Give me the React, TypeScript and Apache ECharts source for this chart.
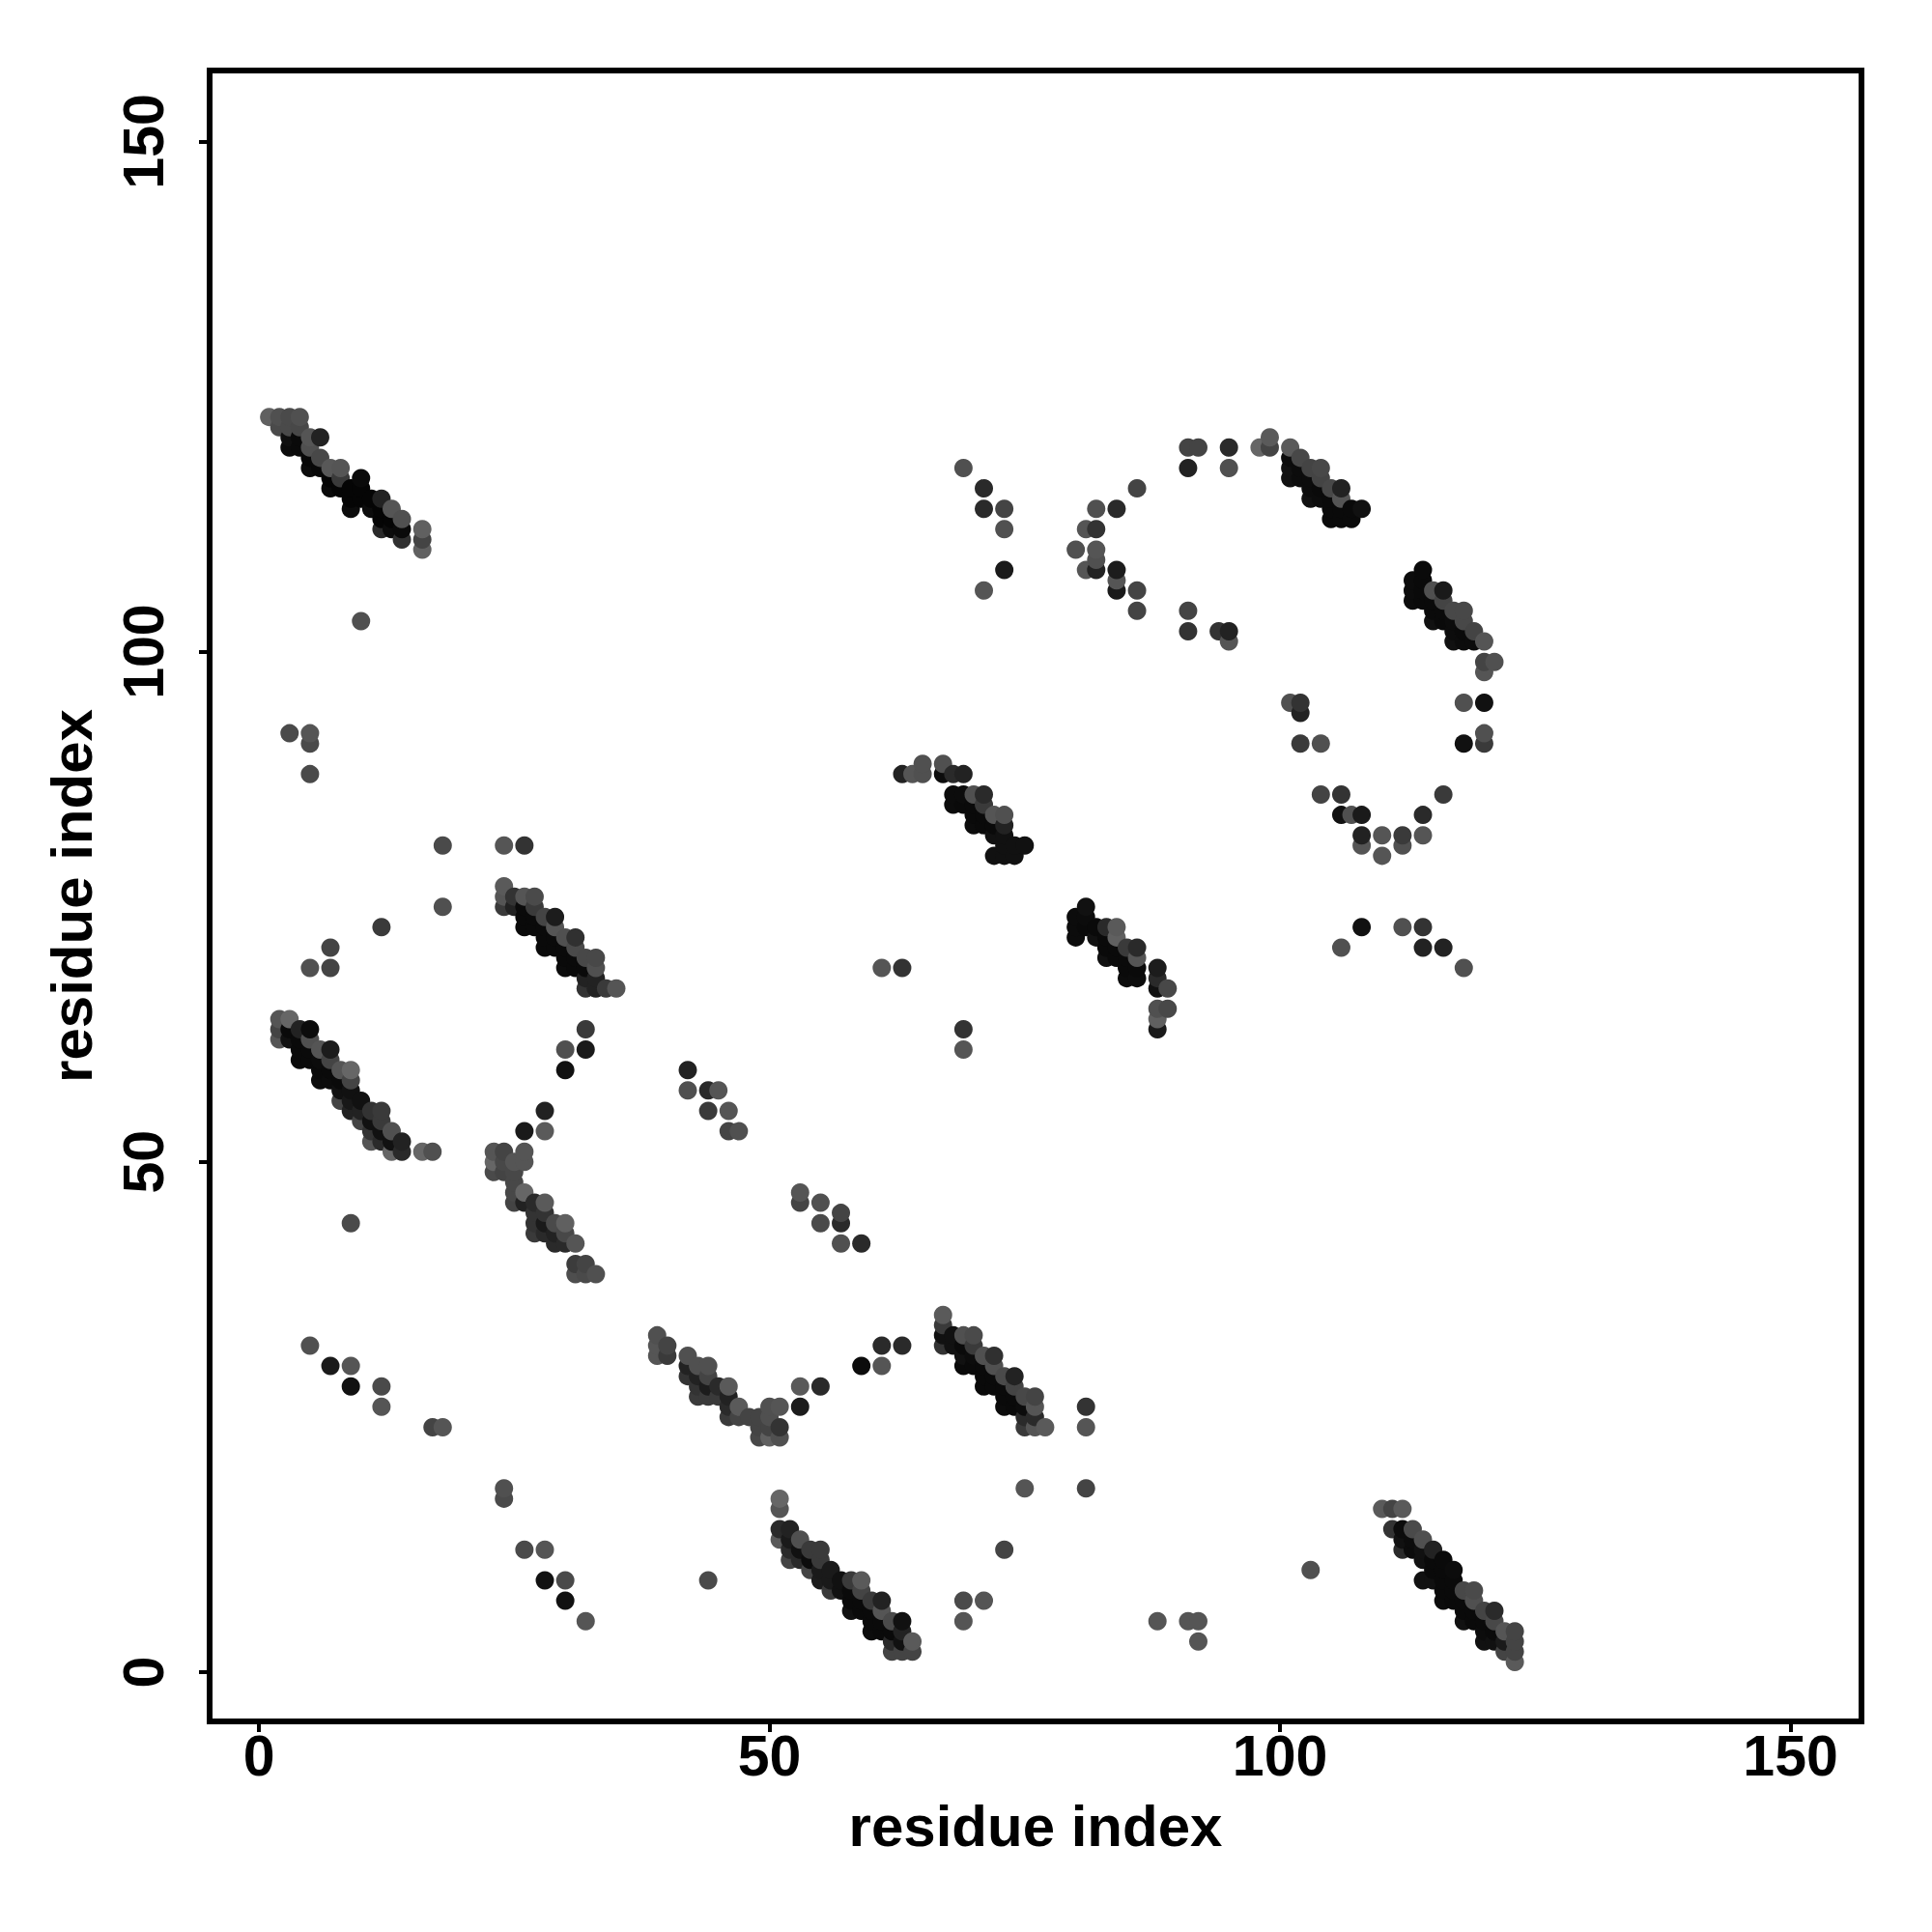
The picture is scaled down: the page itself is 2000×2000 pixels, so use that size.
import React, { useEffect, useRef } from "react";
import * as echarts from "echarts";

type P = [number, number, number];

const xTicks = [0, 50, 100, 150];
const yTicks = [0, 50, 100, 150];
const xTitle = "residue index";
const yTitle = "residue index";

const bandA: P[] = [
  [3,121,0x10],[3,120,0x0c],[4,120,0x0a],[4,121,0x0a],[5,119,0x08],[5,118,0x0c],[6,118,0x08],[6,119,0x48],[7,117,5],[7,116,0x0a],[8,116,5],[9,116,5],[9,115,5],[9,114,0x0c],[10,115,5],[10,116,5],[11,115,5],[11,114,0x0c],[12,114,5],[12,113,5],[12,112,0x2a],[13,113,5],[13,112,0x0c],[14,112,0x0a],[14,111,0x30],
  [1,123,0x60],[2,122,0x4a],[2,123,0x50],[3,123,0x4a],[3,122,0x4a],[4,123,0x50],[4,122,0x48],[5,121,0x55],[5,120,0x50],[6,121,0x22],[7,118,0x58],[8,118,0x55],[8,117,0x3a],[10,117,0x0a],[12,115,0x22],[13,114,0x55],[14,113,0x50],[16,112,0x60],[16,111,0x44],[16,110,0x60],[10,103,0x50],
];
const bandB: P[] = [
  [2,64,0x55],[3,64,0x66],[2,63,0x44],[2,62,0x55],[3,62,0x11],[3,63,0x0a],[4,63,0x22],[5,63,0x0c],[5,62,0x50],[4,62,0x0a],[4,61,0x0a],[5,61,0x0a],[6,61,0x55],[7,61,0x1c],[4,60,0x0a],[5,60,0x0a],[6,60,0x0c],[6,59,0x0a],[7,59,0x0a],[7,60,0x44],[8,59,0x55],[9,59,0x66],[9,58,0x44],[6,58,0x0c],[7,58,0x0c],[8,58,0x0a],[8,56,0x44],[8,57,0x11],[9,57,0x11],[10,56,0x11],[9,56,0x18],[9,55,0x22],[10,55,0x22],[11,55,0x33],[12,55,0x3a],[10,54,0x44],[11,54,0x11],[12,54,0x3a],[11,53,0x33],[11,52,0x55],[13,53,0x50],[14,52,0x22],[14,51,0x2a],[13,51,0x66],[12,52,0x2a],[13,52,0x11],[12,53,0x11],[16,51,0x66],[17,51,0x50],[9,44,0x4a],
];
const bandC: P[] = [
  [24,77,0x5a],[24,76,0x55],[24,75,0x3a],[25,76,0x33],[26,76,0x55],[27,76,0x4a],[27,75,0x3a],[25,75,0x22],[26,75,0x0a],[26,74,0x0a],[26,73,0x0a],[27,74,0x0a],[27,73,0x0a],[28,73,0x0a],[28,72,0x0a],[28,71,0x0a],[29,72,0x0a],[29,71,0x0a],[30,71,0x0a],[30,70,0x0a],[30,69,0x0c],[31,70,0x0a],[31,69,0x0a],[32,69,0x0a],[28,74,0x44],[29,74,0x1c],[29,73,0x55],[30,72,0x50],[31,72,0x30],[31,71,0x4a],[32,70,0x48],[33,70,0x48],[33,69,0x50],[32,68,0x22],[32,67,0x33],[33,68,0x22],[33,67,0x22],[34,67,0x3a],[35,67,0x55],[32,63,0x3a],[32,61,0x1a],[30,61,0x50],[30,59,0x11],[28,55,0x22],
];
const bandD: P[] = [
  [23,51,0x55],[24,51,0x44],[26,51,0x55],[26,50,0x55],[25,50,0x55],[23,50,0x66],[23,49,0x4a],[24,49,0x44],[24,50,0x48],[25,49,0x48],[25,48,0x48],[25,47,0x48],[25,46,0x44],[26,47,0x66],[26,46,0x22],[27,46,0x2a],[28,46,0x5a],[27,45,0x33],[27,44,0x33],[27,43,0x3a],[28,45,0x33],[28,44,0x1a],[28,43,0x2a],[29,44,0x4a],[30,44,0x60],[29,43,0x22],[29,42,0x2a],[30,42,0x2a],[30,43,0x48],[31,42,0x55],[31,40,0x3c],[32,40,0x44],[31,39,0x4e],[32,39,0x4a],[33,39,0x50],[26,53,0x1a],[28,53,0x5a],
];
const bandE: P[] = [
  [39,33,0x50],[39,32,0x55],[39,31,0x55],[40,32,0x44],[40,31,0x3a],[42,31,0x50],[42,30,0x22],[42,29,0x33],[43,29,0x22],[43,30,0x50],[44,30,0x50],[44,29,0x44],[44,28,0x1c],[43,28,0x33],[43,27,0x3a],[44,27,0x3a],[45,28,0x2a],[45,27,0x3a],[46,28,0x5a],[46,27,0x22],[47,26,0x5a],[46,26,0x2a],[46,25,0x3a],[47,25,0x44],[48,25,0x44],[49,25,0x44],[50,26,0x50],[51,26,0x55],[50,25,0x50],[49,24,0x44],[50,24,0x44],[49,23,0x48],[50,23,0x60],[51,23,0x50],[51,24,0x33],[53,28,0x5a],[55,28,0x2a],[53,26,0x1c],
];
const bandF: P[] = [
  [67,35,0x5a],[67,34,0x3a],[67,33,0x11],[67,32,0x33],[68,33,0x11],[68,32,0x11],[69,33,0x50],[70,33,0x4a],[70,32,0x3a],[69,32,0x0a],[69,31,0x11],[69,30,0x0a],[70,31,0x0c],[70,30,0x0a],[71,31,0x50],[72,31,0x30],[72,30,0x50],[71,30,0x0a],[71,29,0x0a],[71,28,0x0a],[72,29,0x0a],[72,28,0x0a],[73,29,0x4a],[74,29,0x22],[73,28,0x0a],[73,27,0x0a],[73,26,0x0c],[74,28,0x44],[74,27,0x0a],[74,26,0x0a],[75,27,0x48],[76,27,0x44],[76,26,0x55],[75,26,0x0c],[75,25,0x2a],[75,24,0x3a],[76,25,0x2a],[76,24,0x55],[77,24,0x5a],
];
const bandG: P[] = [
  [51,17,0x66],[51,16,0x55],[51,14,0x2a],[52,14,0x22],[51,13,0x5a],[52,13,0x1a],[53,13,0x50],[52,12,0x2a],[52,11,0x44],[53,12,0x11],[53,11,0x2a],[54,12,0x3a],[55,12,0x3a],[54,11,0x0c],[54,10,0x44],[55,11,0x3a],[55,10,0x1a],[56,10,0x1a],[55,9,0x1c],[56,9,0x1a],[56,8,0x3a],[57,9,0x11],[58,9,0x3a],[59,9,0x5a],[57,8,0x11],[58,8,0x0a],[58,7,0x0a],[58,6,0x11],[59,8,0x44],[59,7,0x0a],[59,6,0x0a],[60,7,0x3a],[61,7,0x22],[60,6,0x0a],[60,5,0x0a],[60,4,0x0c],[61,6,0x55],[61,5,0x0a],[61,4,0x0a],[62,5,0x4a],[63,5,0x11],[62,4,0x0a],[62,3,0x2a],[62,2,0x44],[63,4,0x22],[63,3,0x11],[63,2,0x44],[64,3,0x5a],[64,2,0x44],
];
const bandH: P[] = [
  [110,16,0x5a],[111,16,0x44],[112,16,0x5a],[111,14,0x33],[112,14,0x0c],[113,14,0x4a],[112,13,0x11],[112,12,0x2a],[113,13,0x0c],[113,12,0x0c],[114,13,0x50],[114,12,0x11],[115,12,0x22],[114,11,0x11],[115,11,0x0a],[116,11,0x0a],[116,10,0x0a],[117,10,0x0c],[115,10,0x0a],[114,9,0x11],[115,9,0x11],[116,9,0x0a],[116,8,0x0a],[116,7,0x0c],[117,9,0x0a],[117,8,0x0a],[117,7,0x0a],[118,8,0x48],[119,8,0x4a],[119,7,0x50],[118,7,0x0a],[118,6,0x0a],[118,5,0x11],[119,6,0x0a],[119,5,0x0a],[120,6,0x44],[121,6,0x2a],[120,5,0x0a],[120,4,0x0c],[120,3,0x11],[121,5,0x48],[121,4,0x0a],[121,3,0x11],[122,4,0x55],[122,3,0x1a],[123,4,0x44],[122,2,0x44],[123,3,0x44],[123,2,0x44],[123,1,0x5a],
];
const bandI: P[] = [
  [98,120,0x66],[99,121,0x5a],[99,120,0x44],[101,120,0x5a],[102,119,0x48],[103,118,0x44],[104,118,0x48],[104,117,0x44],[105,116,0x48],[106,116,0x22],[106,115,0x55],[108,114,0x11],[101,119,0x0c],[101,118,0x11],[101,117,0x11],[102,118,0x0c],[102,117,0x0c],[103,117,0x0c],[103,116,0x0c],[103,115,0x11],[104,116,0x0a],[104,115,0x0c],[105,115,0x0a],[105,114,0x0a],[105,113,0x0a],[106,114,0x0a],[106,113,0x0a],[107,114,0x0a],[107,113,0x0a],
];
const bandJ: P[] = [
  [114,108,0x0a],[113,107,0x0c],[113,106,0x0c],[113,105,0x0c],[114,107,0x0a],[114,106,0x0a],[114,105,0x0a],[115,106,0x50],[116,106,0x1a],[115,105,0x0a],[116,105,0x44],[115,104,0x0a],[115,103,0x11],[116,104,0x0a],[116,103,0x0a],[117,104,0x48],[118,104,0x48],[117,103,0x0c],[118,103,0x48],[117,102,0x0c],[117,101,0x11],[118,102,0x0a],[118,101,0x0c],[119,102,0x44],[119,101,0x0c],[120,101,0x55],
];
const bandK: P[] = [
  [63,88,0x22],[64,88,0x55],[65,88,0x50],[65,89,0x50],[67,89,0x50],[67,88,0x0c],[68,88,0x2a],[69,88,0x22],[68,86,0x0c],[69,86,0x0c],[68,85,0x0c],[70,86,0x50],[71,86,0x2a],[71,85,0x3a],[70,85,0x0a],[69,85,0x0a],[70,84,0x0a],[70,83,0x0c],[71,84,0x0a],[71,83,0x0a],[72,84,0x55],[73,84,0x50],[73,83,0x22],[72,83,0x0a],[72,82,0x11],[73,82,0x11],[72,80,0x11],[73,80,0x11],[74,80,0x11],[73,81,0x11],[74,81,0x11],[75,81,0x11],
];
const bandL: P[] = [
  [81,75,0x11],[80,74,0x0c],[80,73,0x0c],[80,72,0x0c],[81,74,0x0c],[81,73,0x0a],[82,73,0x0a],[82,72,0x11],[83,73,0x2a],[84,73,0x5a],[84,72,0x60],[83,72,0x0a],[83,71,0x0a],[83,70,0x11],[84,71,0x0a],[84,70,0x0a],[85,71,0x3a],[86,71,0x2a],[86,70,0x55],[85,70,0x0a],[85,69,0x0a],[85,68,0x0c],[86,69,0x0a],[86,68,0x0c],[88,69,0x1c],[88,68,0x2a],[88,67,0x11],[89,67,0x48],[88,65,0x50],[89,65,0x48],[88,64,0x60],[88,63,0x1a],
];
const lowerScatter: P[] = [
  [5,32,0x50],[7,30,0x1a],[9,30,0x55],[9,28,0x11],[12,28,0x4a],[12,26,0x55],[17,24,0x44],[18,24,0x55],[24,18,0x50],[24,17,0x4a],[26,12,0x4a],[28,12,0x55],[28,9,0x11],[30,9,0x4a],[30,7,0x11],[32,5,0x55],[44,9,0x4a],[69,5,0x55],[69,7,0x4a],[71,7,0x55],[73,12,0x44],[75,18,0x55],[81,18,0x44],[81,24,0x55],[81,26,0x33],[88,5,0x55],[91,5,0x55],[92,5,0x55],[92,3,0x55],[103,10,0x50],
  [59,30,0x0c],[61,30,0x55],[61,32,0x2a],[63,32,0x2a],
];
const middleScatter: P[] = [
  [59,42,0x2a],[57,42,0x50],[55,44,0x4a],[57,44,0x2a],[57,45,0x44],[55,46,0x50],[53,46,0x44],[53,47,0x55],[42,59,0x22],[42,57,0x50],[44,57,0x2a],[45,57,0x55],[44,55,0x3a],[46,55,0x55],[46,53,0x44],[47,53,0x50],
  [3,92,0x4a],[5,92,0x55],[5,91,0x4a],[5,88,0x4a],[18,81,0x4a],[24,81,0x55],[26,81,0x33],[18,75,0x50],[12,73,0x3a],[7,71,0x44],[5,69,0x50],[7,69,0x44],[61,69,0x55],[63,69,0x33],[69,63,0x33],[69,61,0x55],
];
const upperScatter: P[] = [
  [69,118,0x50],[71,116,0x2a],[71,114,0x2a],[73,114,0x44],[73,112,0x50],[73,108,0x1a],[71,106,0x55],
  [80,110,0x50],[81,112,0x55],[82,112,0x33],[82,114,0x50],[84,114,0x2a],[86,116,0x44],[82,110,0x55],[81,108,0x55],[82,108,0x22],[82,109,0x50],[84,108,0x1c],[84,107,0x55],[84,106,0x1a],[86,106,0x44],[86,104,0x44],
  [91,120,0x44],[92,120,0x44],[91,118,0x22],[95,120,0x2a],[95,118,0x50],[91,104,0x44],[91,102,0x33],[94,102,0x33],[95,102,0x22],[95,101,0x55],
];
const arcScatter: P[] = [
  [101,95,0x50],[102,95,0x33],[102,94,0x22],[102,91,0x3a],[104,91,0x50],[104,86,0x44],[106,86,0x33],[106,84,0x11],[107,84,0x50],[108,84,0x1a],[108,82,0x22],[108,81,0x55],[110,82,0x55],[110,80,0x55],[112,82,0x3a],[112,81,0x50],[114,84,0x2a],[114,82,0x55],[116,86,0x3a],
  [106,71,0x50],[108,73,0x11],[112,73,0x50],[114,73,0x33],[114,71,0x22],[116,71,0x22],[118,69,0x50],
  [118,95,0x50],[120,95,0x11],[120,92,0x50],[120,91,0x3a],[118,91,0x11],[120,99,0x44],[121,99,0x50],[120,98,0x55],
];

const allContacts: P[] = [
  ...bandA, ...bandB, ...bandC, ...bandD, ...bandE, ...bandF, ...bandG, ...bandH, ...bandI, ...bandJ, ...bandK, ...bandL,
  ...lowerScatter, ...middleScatter, ...upperScatter, ...arcScatter,
].sort((a, b) => a[0] - b[0] || a[1] - b[1]);

const FONT = "'Liberation Sans', Arial, sans-serif";

export default function App() {
  const ref = useRef<HTMLDivElement>(null);
  useEffect(() => {
    const chart = echarts.init(ref.current!, null, { renderer: "svg" });
    const axisCommon = {
      type: "value" as const,
      min: -4.83,
      max: 156.95,
      splitLine: { show: false },
      axisLine: { show: false, onZero: false },
      nameLocation: "middle" as const,
      nameTextStyle: { fontFamily: FONT, fontWeight: "bold" as const, fontSize: 60, color: "#000" },
    };
    chart.setOption({
      animation: false,
      backgroundColor: "#fff",
      grid: { left: 217, top: 73, width: 1710, height: 1709, show: true, borderColor: "#000", borderWidth: 6, backgroundColor: "transparent" },
      xAxis: {
        ...axisCommon,
        name: xTitle,
        nameGap: 78,
        axisTick: { show: true, length: 11, customValues: xTicks, lineStyle: { color: "#000", width: 4 } },
        axisLabel: { customValues: xTicks, margin: 6, fontFamily: FONT, fontWeight: "bold", fontSize: 59, color: "#000" },
      },
      yAxis: {
        ...axisCommon,
        name: yTitle,
        nameGap: 113,
        axisTick: { show: true, length: 11, customValues: yTicks, lineStyle: { color: "#000", width: 4 } },
        axisLabel: { customValues: yTicks, rotate: 90, margin: 68, fontFamily: FONT, fontWeight: "bold", fontSize: 59, color: "#000", verticalAlign: "middle", align: "center" },
      },
      series: [
        {
          type: "scatter",
          symbol: "circle",
          symbolSize: 19,
          data: allContacts.map((p) => ({
            value: [p[0], p[1]],
            itemStyle: { color: `rgb(${p[2]},${p[2]},${p[2]})`, opacity: 1 },
          })),
        },
      ],
    });
    return () => chart.dispose();
  }, []);
  return <div ref={ref} style={{ position: "absolute", left: 0, top: 0, width: 2000, height: 2000 }} />;
}
